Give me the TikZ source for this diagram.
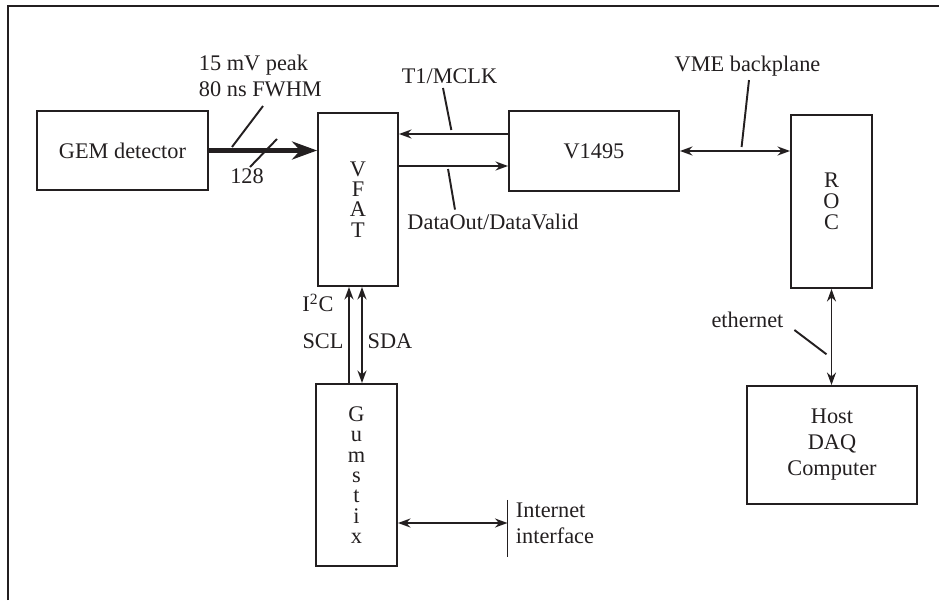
\documentclass[tikz,border=0pt]{standalone}
\usepackage{fontspec}
\setmainfont{Liberation Serif}
\usepackage{tikz}
\usetikzlibrary{arrows.meta,calc,positioning}
\usepackage{xcolor}
\definecolor{ink}{HTML}{231F20}

\begin{document}
\begin{tikzpicture}[>={Stealth[length=2.5mm,width=1.8mm]}, font=\fontsize{12.7}{15}\selectfont,
    line width=1.1pt, color=ink,
    bloc/.style={draw, inner sep=0pt, align=center},
    pile/.style={bloc, font=\fontsize{12.7}{11.6}\selectfont},
    etiq/.style={inner sep=0pt, align=left}]
    \useasboundingbox (0,0) rectangle (18.78,12);
    \draw[line width=1.7pt] (0.16,0) -- (0.16,11.88) -- (18.78,11.88);
    % blocs
    \node[bloc, minimum width=3.42cm, minimum height=1.58cm] (gem) at (2.45,8.99) {GEM detector};
    \node[pile, minimum width=1.6cm, minimum height=3.46cm] (vfat) at (7.16,8.01) {V\\F\\A\\T};
    \node[bloc, minimum width=3.4cm, minimum height=1.6cm] (v1495) at (11.88,8.98) {V1495};
    \node[pile, minimum width=1.62cm, minimum height=3.46cm, font=\fontsize{12.7}{11.9}\selectfont] (roc) at (16.63,7.97) {R\\O\\C};
    \node[bloc, minimum width=3.4cm, minimum height=2.36cm, font=\fontsize{12.7}{14.8}\selectfont] (host) at (16.64,3.10) {Host\\DAQ\\Computer};
    \node[pile, minimum width=1.62cm, minimum height=3.64cm] (gum) at (7.13,2.50) {G\\u\\m\\s\\t\\i\\x};
    % liaisons
    \coordinate (t1) at ($(v1495.west)+(0,0.34)$);  \coordinate (t1end) at (t1 -| vfat.east);
    \coordinate (dv) at ($(v1495.west)+(0,-0.30)$); \coordinate (dvend) at (dv -| vfat.east);
    \coordinate (vme) at (v1495.east -| roc.west);  \coordinate (rocb) at (roc.south |- host.north);
    \coordinate (scl) at ($(gum.north)+(-0.15,0)$); \coordinate (sda) at ($(gum.north)+(0.11,0)$);
    \coordinate (net) at (10.15,1.54);
    \draw[line width=3.1pt, -{Stealth[length=5mm,width=3.6mm]}] (gem.east) -- (gem.east -| vfat.west);
    \draw[->] (t1) -- (t1end);
    \draw[->] (dvend) -- (dv);
    \draw[<->] (v1495.east) -- (vme);
    \draw[<->] (roc.south) -- (rocb);
    \draw[->] (scl) -- (scl |- vfat.south);
    \draw[<->] (sda) -- (sda |- vfat.south);
    \draw[<->] (net -| gum.east) -- (net);
    \draw ($(net)+(0,0.46)$) -- ($(net)+(0,-0.68)$);
    % etiquettes et traits de rappel
    \node[etiq, anchor=west] (sig) at (3.96,10.48) {15 mV peak\\80 ns FWHM};
    \node[etiq] (nb) at (4.94,8.47) {128};
    \coordinate (bus) at (5.27,8.94);
    \draw ($(sig.south west)+(1.30,-0.16)$) -- (4.64,9.06);
    \draw ($(bus)+(-0.27,-0.28)$) -- ($(bus)+(0.27,0.28)$);
    \node[etiq] (t1lbl) at (8.99,10.48) {T1/MCLK};
    \draw ($(t1lbl.south)+(-0.13,-0.07)$) -- ($(t1)!0.52!(t1end)+(0,0.08)$);
    \node[etiq] (dvlbl) at (9.86,7.57) {DataOut/DataValid};
    \draw ($(dvend)!0.45!(dv)+(0,-0.06)$) -- ($(dvlbl.north)+(-0.76,0.06)$);
    \node[etiq] (vmelbl) at (14.95,10.67) {VME backplane};
    \draw ($(vmelbl.south)+(0.03,-0.05)$) -- ($(v1495.east)!0.56!(vme)+(0,0.08)$);
    \node[etiq] (ethlbl) at (14.95,5.6) {ethernet};
    \draw ($(ethlbl.east)+(0.2,-0.2)$) -- ($(roc.south)!0.68!(rocb)+(-0.1,0)$);
    \node[etiq] (i2c) at (6.36,5.94) {I\textsuperscript{2}C};
    \node[etiq] (scllbl) at (6.46,5.17) {SCL};
    \node[etiq] (sdalbl) at (7.80,5.17) {SDA};
    \node[etiq, anchor=west] (inet) at ($(net)+(0.15,0)$) {Internet\\interface};
\end{tikzpicture}
\end{document}
